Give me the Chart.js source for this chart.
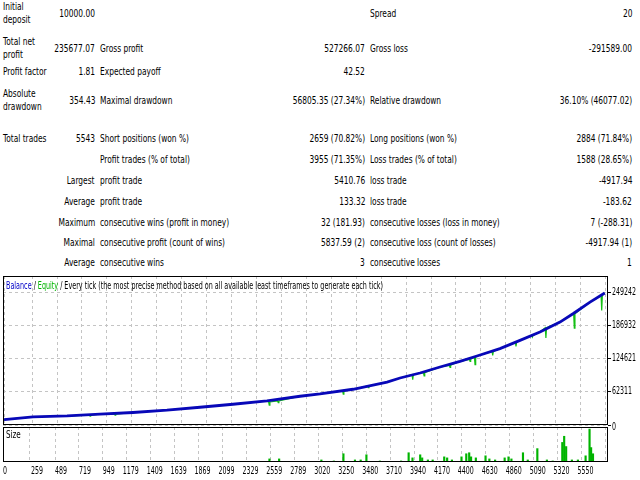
<!DOCTYPE html>
<html>
<head>
<meta charset="utf-8">
<script src="https://cdn.jsdelivr.net/npm/chart.js@4.4.0/dist/chart.umd.min.js"></script>
<style>
body{margin:0;width:640px;height:480px;background:#fff;overflow:hidden;position:relative;
  font-family:'Liberation Sans Narrow','DejaVu Sans Condensed','Liberation Sans',sans-serif;font-size:10px;color:#000}
.c{position:absolute;white-space:nowrap;line-height:13px}
.l{transform:translateY(-50%) scaleX(0.83);transform-origin:left center}
.r{transform:translateY(-50%) scaleX(0.83);transform-origin:right center;text-align:right}
#main{position:absolute;left:0;top:270px}
#size{position:absolute;left:0;top:422px}
</style>
</head>
<body>
<div id="report"></div>
<canvas id="main" width="640" height="160"></canvas>
<canvas id="size" width="640" height="58"></canvas>
<script>
// x axis = trade number, labels as printed under the size panel
var xTicks = [0, 259, 489, 719, 949, 1179, 1409, 1639, 1869, 2099, 2329, 2559, 2789, 3020, 3250, 3480, 3710, 3940, 4170, 4400, 4630, 4860, 5090, 5320, 5550]
var yTicks = [0, 62311, 124621, 186932, 249242]

// balance curve
var balanceTrades = [0, 267, 581, 885, 1190, 1503, 1808, 2112, 2426, 2731, 2915, 3220, 3534, 3654, 3838, 4023, 4207, 4364, 4576, 4761, 4945, 5130, 5250, 5407, 5543]
var balanceValues = [10000, 15200, 17000, 20200, 23400, 27700, 33300, 38900, 45100, 53900, 58200, 67000, 80500, 88100, 97500, 108700, 119400, 129300, 143100, 158700, 174200, 192900, 208600, 230300, 247500]

// equity drops (green spikes below the balance line)
var spikeTrades = [793, 1024, 2447, 2530, 3130, 3361, 3771, 3876, 4115, 4300, 4346, 4509, 4724, 4875, 5000, 5262, 5515]
var spikeBase = [18300, 20200, 43200, 45100, 63800, 73200, 94500, 98200, 111900, 123100, 127400, 138100, 155500, 168000, 182400, 208600, 242900]
var spikeLow = [16500, 18300, 37000, 42100, 57600, 70200, 85100, 91900, 108100, 119400, 113200, 130600, 147400, 164800, 163000, 181700, 214800]

// size panel bars
var sizeTrades = [2435, 2528, 2934, 3054, 3146, 3257, 3312, 3367, 3497, 3700, 3773, 3810, 3884, 3903, 3958, 4004, 4115, 4143, 4189, 4281, 4327, 4355, 4373, 4419, 4512, 4549, 4604, 4696, 4733, 4761, 4872, 4918, 5010, 5102, 5158, 5250, 5268, 5287, 5342, 5400, 5474, 5512, 5527, 5545]
var sizeValues = [3, 3, 2, 1, 8, 2, 2, 7, 1, 1, 9, 4, 7, 4, 2, 2, 5, 4, 2, 5, 8, 9, 5, 4, 6, 3, 2, 4, 5, 3, 9, 2, 13, 2, 1, 19, 25, 15, 2, 2, 6, 32, 14, 8]

// report rows: [center y, label1, value1, label2, value2, label3, value3]
var reportRows = [
    [13, 'Initial<br>deposit', '10000.00', '', '', 'Spread', '20'],
    [48, 'Total net<br>profit', '235677.07', 'Gross profit', '527266.07', 'Gross loss', '-291589.00'],
    [71, 'Profit factor', '1.81', 'Expected payoff', '42.52', '', ''],
    [100, 'Absolute<br>drawdown', '354.43', 'Maximal drawdown', '56805.35 (27.34%)', 'Relative drawdown', '36.10% (46077.02)'],
    [138, 'Total trades', '5543', 'Short positions (won %)', '2659 (70.82%)', 'Long positions (won %)', '2884 (71.84%)'],
    [159, '', '', 'Profit trades (% of total)', '3955 (71.35%)', 'Loss trades (% of total)', '1588 (28.65%)'],
    [180, '', 'Largest', 'profit trade', '5410.76', 'loss trade', '-4917.94'],
    [201, '', 'Average', 'profit trade', '133.32', 'loss trade', '-183.62'],
    [222, '', 'Maximum', 'consecutive wins (profit in money)', '32 (181.93)', 'consecutive losses (loss in money)', '7 (-288.31)'],
    [242, '', 'Maximal', 'consecutive profit (count of wins)', '5837.59 (2)', 'consecutive loss (count of losses)', '-4917.94 (1)'],
    [262, '', 'Average', 'consecutive wins', '3', 'consecutive losses', '1']
]

var FONT = "'Liberation Sans Narrow', 'DejaVu Sans Condensed', 'Liberation Sans', sans-serif"

// ==== report table ====
var report = document.getElementById('report')
var colLeft = [3, null, 100, null, 370, null]
var colRight = [null, 95, null, 365, null, 632]
reportRows.forEach(function(row) {
    for (var i = 0; i < 6; i++) {
        if (!row[i + 1]) continue
        var d = document.createElement('div')
        d.innerHTML = row[i + 1]
        d.style.top = row[0] + 'px'
        if (colLeft[i] != null) {
            d.className = 'c l'
            d.style.left = colLeft[i] + 'px'
        } else {
            d.className = 'c r'
            d.style.right = (640 - colRight[i]) + 'px'
        }
        report.appendChild(d)
    }
})

// ==== datasets ====
var balancePoints = balanceTrades.map(function(t, i) { return {x: t, y: balanceValues[i]} })
var equityPoints = balancePoints.slice()
spikeTrades.forEach(function(t, i) {
    equityPoints.push({x: t - 6, y: spikeBase[i]}, {x: t, y: spikeLow[i]}, {x: t + 6, y: spikeBase[i]})
})
equityPoints.sort(function(a, b) { return a.x - b.x })
var sizePoints = sizeTrades.map(function(t, i) { return {x: t, y: sizeValues[i]} })

// text squeezed horizontally, like the narrow terminal font
function squeezed(ctx, text, x, y, align, k) {
    ctx.save()
    ctx.translate(x, y)
    ctx.scale(k, 1)
    ctx.textAlign = align
    ctx.fillText(text, 0, 0)
    ctx.restore()
}

// frame round the plot area
var framePlugin = {
    id: 'frame',
    afterDatasetsDraw: function(chart) {
        var a = chart.chartArea, ctx = chart.ctx
        ctx.save()
        ctx.strokeStyle = '#000'
        ctx.lineWidth = 1
        ctx.strokeRect(a.left + 0.5, a.top + 0.5, a.right - a.left - 1, a.bottom - a.top - 1)
        ctx.restore()
    }
}

// "Balance / Equity / Every tick ..." header and y labels
var headerPlugin = {
    id: 'header',
    afterDraw: function(chart) {
        var ctx = chart.ctx, a = chart.chartArea, sy = chart.scales.y
        var parts = [['Balance', '#0000c8'], [' / ', '#000'], ['Equity', '#00b400'],
            [' / Every tick (the most precise method based on all available least timeframes to generate each tick)', '#000']]
        ctx.save()
        ctx.font = '10px ' + FONT
        ctx.textBaseline = 'middle'
        var total = 0
        parts.forEach(function(p) { total += ctx.measureText(p[0]).width })
        ctx.save()
        ctx.translate(a.left + 3, a.top + 10)
        ctx.scale(377 / total, 1)
        var x = 0
        parts.forEach(function(p) {
            ctx.fillStyle = p[1]
            ctx.fillText(p[0], x, 0)
            x += ctx.measureText(p[0]).width
        })
        ctx.restore()
        ctx.fillStyle = '#000'
        yTicks.forEach(function(v) {
            squeezed(ctx, String(v), a.right + 4, sy.getPixelForValue(v) + (v === 0 ? 2 : 0), 'left', 0.7)
        })
        ctx.restore()
    }
}

function xScaleOpts(h) {
    return {
        type: 'linear', min: -10, max: 5573,
        afterBuildTicks: function(s) { s.ticks = xTicks.map(function(v) { return {value: v} }) },
        afterFit: function(s) { s.height = h },
        ticks: {display: false},
        grid: {color: '#c4c4c4', drawTicks: false},
        border: {display: false, dash: [3, 3]}
    }
}

// ==== balance / equity chart ====
new Chart(document.getElementById('main'), {
    type: 'line',
    data: {
        datasets: [
            {data: balancePoints, borderColor: '#0808b8', borderWidth: 2.8, pointRadius: 0, order: 1},
            {data: equityPoints, borderColor: '#14c014', borderWidth: 1.2, pointRadius: 0, order: 2}
        ]
    },
    options: {
        responsive: false, animation: false,
        layout: {padding: {left: 3, top: 6, bottom: 5, right: 0}},
        plugins: {legend: {display: false}, tooltip: {enabled: false}},
        scales: {
            x: xScaleOpts(0),
            y: {
                position: 'right', min: 0, max: 279300,
                afterBuildTicks: function(s) { s.ticks = yTicks.map(function(v) { return {value: v} }) },
                afterFit: function(s) { s.width = 32 },
                ticks: {display: false},
                grid: {color: '#c4c4c4', tickLength: 3, tickColor: '#000', tickBorderDash: []},
                border: {display: false, dash: [3, 3]}
            }
        }
    },
    plugins: [framePlugin, headerPlugin]
})

// ==== size chart ====
var sizeLabelPlugin = {
    id: 'sizeLabels',
    afterDraw: function(chart) {
        var ctx = chart.ctx, a = chart.chartArea, sx = chart.scales.x
        ctx.save()
        ctx.font = '10px ' + FONT
        ctx.fillStyle = '#000'
        ctx.textBaseline = 'middle'
        squeezed(ctx, 'Size', a.left + 3, a.top + 8, 'left', 0.8)
        xTicks.forEach(function(v) {
            if (v === 0) squeezed(ctx, '0', a.left, a.bottom + 9, 'left', 0.7)
            else squeezed(ctx, String(v), sx.getPixelForValue(v), a.bottom + 9, 'right', 0.7)
        })
        ctx.restore()
    }
}

new Chart(document.getElementById('size'), {
    type: 'bar',
    data: {
        datasets: [{data: sizePoints, backgroundColor: '#00b400', barThickness: 1.5}]
    },
    options: {
        responsive: false, animation: false,
        layout: {padding: {left: 3, top: 5, bottom: 0, right: 0}},
        plugins: {legend: {display: false}, tooltip: {enabled: false}},
        scales: {
            x: xScaleOpts(18),
            y: {
                position: 'right', min: 0, max: 34,
                afterFit: function(s) { s.width = 32 },
                ticks: {display: false},
                grid: {display: false},
                border: {display: false}
            }
        }
    },
    plugins: [framePlugin, sizeLabelPlugin]
})
</script>
</body>
</html>
